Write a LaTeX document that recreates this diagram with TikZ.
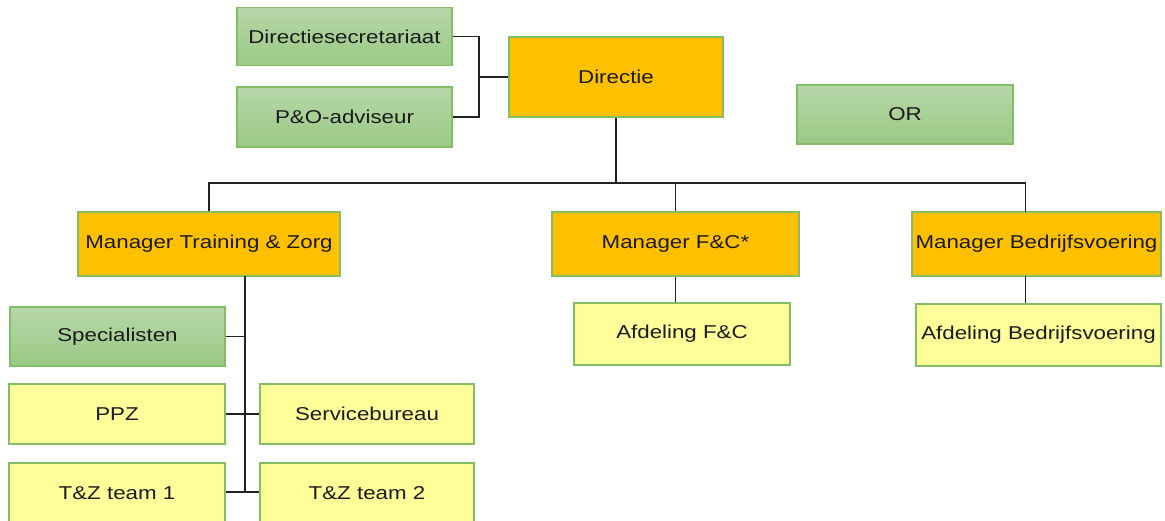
\documentclass[tikz,border=0pt]{standalone}
\usepackage{fontspec}
\setmainfont{Liberation Sans}[FakeStretch=1.2]
\definecolor{gold}{HTML}{FFC000}
\definecolor{pale}{HTML}{FFFF99}
\definecolor{grtop}{HTML}{B6D7A8}
\definecolor{grbot}{HTML}{9BC985}
\definecolor{edge}{HTML}{82BE65}
\definecolor{txt}{HTML}{1A1A1A}
\definecolor{wire}{HTML}{222222}
\tikzset{
  box/.style={rectangle, draw=edge, line width=1.3pt, inner sep=0pt, text=txt,
    font=\fontsize{18.6}{20}\selectfont},
  goldbox/.style={box, fill=gold},
  palebox/.style={box, fill=pale},
  greenbox/.style={box, top color=grtop, bottom color=grbot},
  wireline/.style={draw=wire, line width=1.2pt}
}
\begin{document}
\begin{tikzpicture}[x=1pt,y=-1pt]
\useasboundingbox (0,0) rectangle (1165,520);
\clip (0,0) rectangle (1165,520);
\fill[white] (0,0) rectangle (1165,520);
% nodes
\node[greenbox, minimum width=215pt, minimum height=58pt] (dsec) at (344.5,36.5) {Directiesecretariaat};
\node[greenbox, minimum width=215pt, minimum height=60pt] (po) at (344.5,117) {P\&O-adviseur};
\node[goldbox, minimum width=214pt, minimum height=80pt] (dir) at (616,77) {Directie};
\node[greenbox, minimum width=216pt, minimum height=59pt] (or) at (905,114.5) {OR};
\node[goldbox, minimum width=262pt, minimum height=64pt] (mtz) at (209,244) {Manager Training \& Zorg};
\node[goldbox, minimum width=247pt, minimum height=64pt] (mfc) at (675.5,244) {Manager F\&C*};
\node[goldbox, minimum width=249pt, minimum height=64pt] (mbv) at (1036.5,244) {Manager Bedrijfsvoering};
\node[palebox, minimum width=216pt, minimum height=62pt] (afc) at (682,334) {Afdeling F\&C};
\node[palebox, minimum width=245pt, minimum height=62pt] (abv) at (1038.5,335) {Afdeling Bedrijfsvoering};
\node[greenbox, minimum width=215pt, minimum height=59pt] (spec) at (117.5,336.5) {Specialisten};
\node[palebox, minimum width=216pt, minimum height=60pt] (ppz) at (117,414) {PPZ};
\node[palebox, minimum width=214pt, minimum height=60pt] (sb) at (367,414) {Servicebureau};
\node[palebox, minimum width=216pt, minimum height=60pt] (tz1) at (117,493) {T\&Z team 1};
\node[palebox, minimum width=214pt, minimum height=60pt] (tz2) at (367,493) {T\&Z team 2};
% helper coordinates
\coordinate (jn) at (479,77);
\coordinate (busy) at (0,183);
\coordinate (bvtop) at (1025.5,212);
\coordinate (bvbot) at (1025.5,276);
\coordinate (mtzb) at (245,276);
\coordinate (tzy) at (245,492);
% connectors
\draw[wireline] (dsec.east) -| (jn) |- (po.east);
\draw[wireline] (dir.west) -- (jn);
\draw[wireline] (dir.south) -- (dir.south |- busy);
\draw[wireline] (mtz.north) |- (bvtop |- busy) -- (bvtop);
\draw[wireline] (mfc.north) -- (mfc.north |- busy);
\draw[wireline] (mfc.south) -- (mfc.south |- afc.north);
\draw[wireline] (bvbot) -- (bvbot |- abv.north);
\draw[wireline] (mtzb) -- (tzy);
\draw[wireline] (spec.east) -- (spec.east -| mtzb);
\draw[wireline] (ppz.east) -- (sb.west);
\draw[wireline] (tz1.east |- tzy) -- (tz2.west |- tzy);
\end{tikzpicture}
\end{document}
